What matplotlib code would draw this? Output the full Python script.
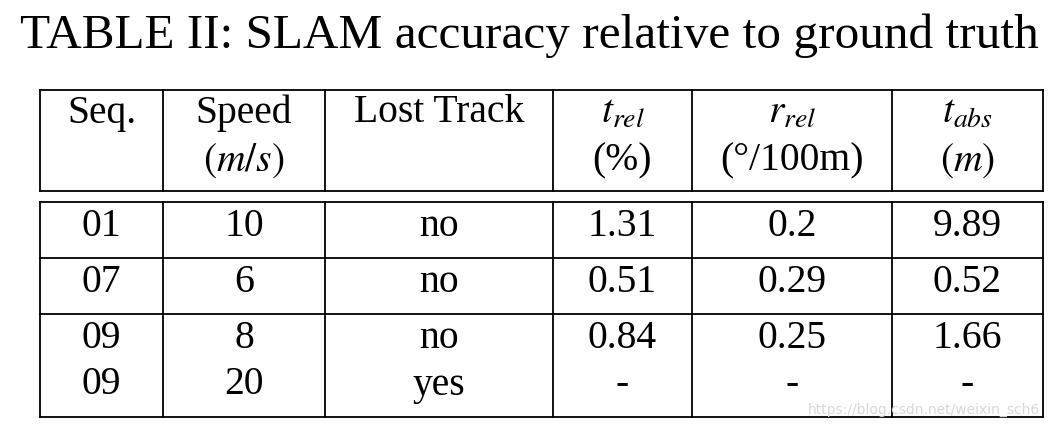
import matplotlib
matplotlib.use("Agg")
import matplotlib.pyplot as plt

plt.rcParams['font.family'] = ['Liberation Serif', 'DejaVu Serif']
plt.rcParams['mathtext.fontset'] = 'stix'

title = "TABLE II: SLAM accuracy relative to ground truth"
header1 = ["Seq.", "Speed", "Lost Track", r"$t_{rel}$", r"$r_{rel}$", r"$t_{abs}$"]
header2 = ["", r"$(m/s)$", "", "(%)", "(°/100m)", r"$(m)$"]
seq = ["01", "07", "09", "09"]
speed = ["10", "6", "8", "20"]
lost = ["no", "no", "no", "yes"]
t_rel = ["1.31", "0.51", "0.84", "-"]
r_rel = ["0.2", "0.29", "0.25", "-"]
t_abs = ["9.89", "0.52", "1.66", "-"]

fig = plt.figure(figsize=(10.55, 4.33), dpi=100)
ax = fig.add_axes([0, 0, 1, 1])
ax.set_xlim(0, 1055)
ax.set_ylim(433, 0)
ax.axis('off')

ax.text(529, 36, title, ha='center', va='center', fontsize=35.5)

xs = [40, 163, 325, 553, 692, 892, 1043]
lw = 1.3
for y in [90, 191, 202, 258, 314, 417]:
    ax.plot([xs[0], xs[-1]], [y, y], color='black', lw=lw)
for x in xs:
    ax.plot([x, x], [90, 191], color='black', lw=lw)
    ax.plot([x, x], [202, 417], color='black', lw=lw)

centers = [(xs[i] + xs[i + 1]) / 2 for i in range(6)]
fs = 28.5
for c, h1, h2 in zip(centers, header1, header2):
    ax.text(c, 113, h1, ha='center', va='center', fontsize=fs)
    if h2:
        ax.text(c, 161, h2, ha='center', va='center', fontsize=fs)

row_y = [226, 282, 338, 385]
cols = [seq, speed, lost, t_rel, r_rel, t_abs]
for j, col in enumerate(cols):
    for i, v in enumerate(col):
        ax.text(centers[j], row_y[i], v, ha='center', va='center', fontsize=fs)

ax.text(1040, 410, "https://blog.csdn.net/weixin_sch6", ha='right', va='center',
        fontsize=10, color='#d8d8d8', family='DejaVu Sans')

fig.savefig("out.png", dpi=100)
